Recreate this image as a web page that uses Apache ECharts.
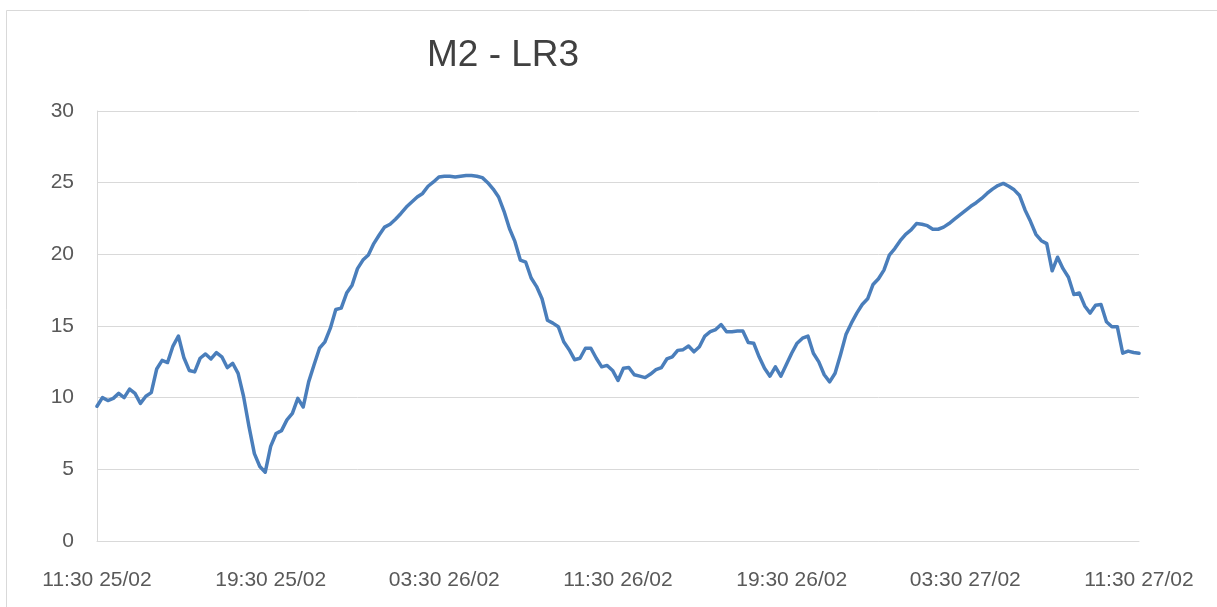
<!DOCTYPE html>
<html>
<head>
<meta charset="utf-8">
<title>M2 - LR3</title>
<script src="https://cdn.jsdelivr.net/npm/echarts@6/dist/echarts.min.js"></script>
<style>
  html, body { margin: 0; padding: 0; background: #fff; }
  #chart { width: 1217px; height: 607px; }
</style>
</head>
<body>
<div id="chart"></div>
<script>
// readings every 15 min, from 11:30 25/02 to 11:30 27/02
const stepHours = 0.25
const xTickLabels = ['11:30 25/02', '19:30 25/02', '03:30 26/02', '11:30 26/02', '19:30 26/02', '03:30 27/02', '11:30 27/02']
const yTicks = [0, 5, 10, 15, 20, 25, 30]

const values = [
  9.4, 10.0, 9.8, 9.95, 10.3, 10.0, 10.6, 10.3, 9.6, 10.1,
  10.35, 12.0, 12.6, 12.45, 13.6, 14.3, 12.8, 11.9, 11.8, 12.75,
  13.05, 12.7, 13.15, 12.85, 12.1, 12.4, 11.7, 10.1, 8.0, 6.1,
  5.2, 4.8, 6.6, 7.5, 7.7, 8.45, 8.9, 9.95, 9.35, 11.1,
  12.3, 13.45, 13.9, 14.85, 16.15, 16.25, 17.3, 17.85, 19.0, 19.6,
  19.95, 20.75, 21.35, 21.9, 22.1, 22.45, 22.85, 23.3, 23.65, 24.0,
  24.25, 24.75, 25.05, 25.4, 25.45, 25.45, 25.4, 25.45, 25.5, 25.5,
  25.45, 25.35, 25.0, 24.55, 24.0, 23.0, 21.8, 20.9, 19.6, 19.45,
  18.35, 17.75, 16.9, 15.4, 15.2, 14.95, 13.9, 13.35, 12.65, 12.75,
  13.45, 13.45, 12.75, 12.15, 12.25, 11.9, 11.2, 12.05, 12.1, 11.6,
  11.5, 11.4, 11.65, 11.95, 12.1, 12.7, 12.85, 13.3, 13.35, 13.6,
  13.2, 13.55, 14.3, 14.6, 14.75, 15.1, 14.6, 14.6, 14.65, 14.65,
  13.85, 13.8, 12.85, 12.05, 11.5, 12.15, 11.5, 12.3, 13.1, 13.8,
  14.15, 14.3, 13.1, 12.5, 11.6, 11.1, 11.7, 13.0, 14.4, 15.2,
  15.9, 16.5, 16.9, 17.9, 18.3, 18.9, 19.95, 20.4, 20.95, 21.4,
  21.7, 22.15, 22.1, 22.0, 21.75, 21.75, 21.9, 22.15, 22.45, 22.75,
  23.05, 23.35, 23.6, 23.9, 24.25, 24.55, 24.8, 24.95, 24.75, 24.5,
  24.1, 23.1, 22.3, 21.4, 20.95, 20.75, 18.85, 19.8, 19.0, 18.4,
  17.2, 17.3, 16.4, 15.9, 16.45, 16.5, 15.3, 14.95, 14.95, 13.1,
  13.25, 13.15, 13.1
]

const chart = echarts.init(document.getElementById('chart'), null, { renderer: 'canvas' })

const lineData = values.map((v, i) => [i * stepHours, v])
const tickStep = 8 // hours between labels

const option = {
  animation: false,
  backgroundColor: '#ffffff',
  graphic: [
    {
      // outer frame of the chart area
      type: 'rect',
      silent: true,
      shape: { x: 6.5, y: 10.5, width: 1400, height: 800 },
      style: { fill: 'none', stroke: '#d9d9d9', lineWidth: 1 },
    },
  ],
  title: {
    text: 'M2 - LR3',
    left: 427,
    top: 37,
    padding: 0,
    textStyle: {
      fontFamily: 'Liberation Sans',
      fontSize: 37,
      fontWeight: 'normal',
      color: '#404040',
    },
  },
  grid: {
    left: 97,
    right: 78,
    top: 111,
    bottom: 66,
    containLabel: false,
  },
  xAxis: {
    type: 'value',
    min: 0,
    max: (xTickLabels.length - 1) * tickStep,
    interval: tickStep,
    axisLine: { show: true, lineStyle: { color: '#d9d9d9', width: 1 } },
    axisTick: { show: false },
    splitLine: { show: false },
    axisLabel: {
      margin: 29,
      fontFamily: 'Liberation Sans',
      fontSize: 21,
      color: '#595959',
      formatter: (v) => xTickLabels[Math.round(v / tickStep)] || '',
    },
  },
  yAxis: {
    type: 'value',
    min: yTicks[0],
    max: yTicks[yTicks.length - 1],
    interval: 5,
    axisLine: { show: true, lineStyle: { color: '#d9d9d9', width: 1 } },
    axisTick: { show: false },
    splitLine: { show: true, lineStyle: { color: '#d9d9d9', width: 1 } },
    axisLabel: {
      margin: 23,
      fontFamily: 'Liberation Sans',
      fontSize: 21,
      color: '#595959',
    },
  },
  series: [
    {
      type: 'line',
      data: lineData,
      showSymbol: false,
      smooth: false,
      lineStyle: { color: '#4a7ebb', width: 3.5, join: 'round', cap: 'round' },
      itemStyle: { color: '#4a7ebb' },
    },
  ],
}

chart.setOption(option)
</script>
</body>
</html>
